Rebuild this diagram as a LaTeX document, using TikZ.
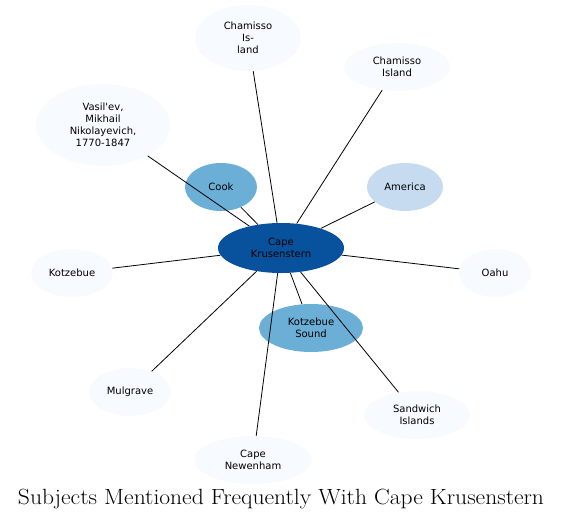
\documentclass[tikz,border=0pt]{standalone}
\usepackage{fontspec}
\usetikzlibrary{shapes.geometric}
\newfontfamily\labelfont{DejaVu Sans}
\definecolor{hub}{HTML}{08519C}
\definecolor{midblue}{HTML}{6BAED6}
\definecolor{lightblue}{HTML}{C6DBEF}
\definecolor{paleblue}{HTML}{F7FBFF}
\tikzstyle{subj}=[ellipse,inner sep=0pt,align=center,font=\labelfont\fontsize{7.5}{9}\selectfont,minimum width=54pt,minimum height=36pt]
\tikzstyle{rare}=[subj,fill=paleblue]
\tikzstyle{link}=[line width=.6pt]

\begin{document}
\begin{tikzpicture}[x=0.75pt,y=-0.75pt]
	\useasboundingbox (0,0) rectangle (563,521);
	\node[subj,fill=hub,minimum width=94.5pt,minimum height=37.5pt] (ck) at (281,248) {Cape\\Krusenstern};
	\node[subj,fill=midblue] (cook) at (221,187) {Cook};
	\node[subj,fill=lightblue,minimum width=57pt] (america) at (405,187) {America};
	\node[subj,fill=midblue,minimum width=78pt] (ksound) at (311,328) {Kotzebue\\Sound};
	\node[rare,minimum width=79.5pt,minimum height=49.5pt] (chamA) at (248,38) {Chamisso\\Is-\\land};
	\node[rare,minimum width=79.5pt] (chamB) at (397,67) {Chamisso\\Island};
	\node[rare,minimum width=100.5pt,minimum height=61.5pt] (vasil) at (103,125) {Vasil'ev,\\Mikhail\\Nikolayevich,\\1770-1847};
	\node[rare,minimum width=61.5pt] (kotz) at (72,273) {Kotzebue};
	\node[rare] (oahu) at (495,273) {Oahu};
	\node[rare,minimum width=61.5pt] (mulg) at (130,392) {Mulgrave};
	\node[rare,minimum width=79.5pt] (sandw) at (417,415) {Sandwich\\Islands};
	\node[rare,minimum width=88.5pt] (newen) at (253,460) {Cape\\Newenham};
	\foreach \n in {cook,america,ksound,chamA,chamB,vasil,kotz,oahu,mulg,sandw,newen}
		\draw[link] (ck) -- (\n);
	\node (title) at (281,499) {\scalebox{1.07}[1]{\fontsize{16.5}{19}\selectfont Subjects Mentioned Frequently With Cape Krusenstern}};
\end{tikzpicture}
\end{document}
